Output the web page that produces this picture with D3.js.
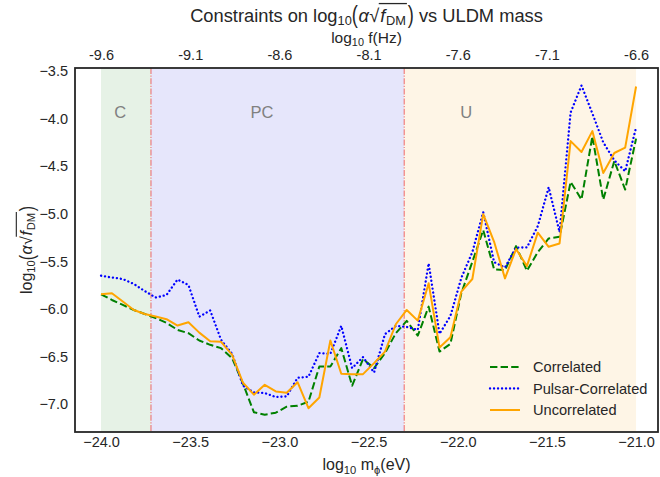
<!DOCTYPE html>
<html>
<head>
<meta charset="utf-8">
<script src="https://cdn.jsdelivr.net/npm/d3@7"></script>
<style>
  body { margin: 0; background: #fff; }
  svg text { font-family: "Liberation Sans", Arial, sans-serif; fill: #262626; white-space: pre; }
</style>
</head>
<body>
<svg id="chart" width="660" height="477"></svg>
<script>
// log10 m (eV) sample points
var mass = [-24.000, -23.939, -23.878, -23.816, -23.755, -23.694, -23.633, -23.571, -23.510, -23.449,
            -23.388, -23.327, -23.265, -23.204, -23.143, -23.082, -23.020, -22.959, -22.898, -22.837,
            -22.776, -22.714, -22.653, -22.592, -22.531, -22.469, -22.408, -22.347, -22.286, -22.224,
            -22.163, -22.102, -22.041, -21.980, -21.918, -21.857, -21.796, -21.735, -21.673, -21.612,
            -21.551, -21.490, -21.429, -21.367, -21.306, -21.245, -21.184, -21.122, -21.061, -21.000];

var correlated = [-5.845, -5.905, -5.957, -6.010, -6.052, -6.094, -6.146, -6.219, -6.254, -6.331,
                  -6.376, -6.411, -6.516, -6.785, -7.084, -7.110, -7.089, -7.026, -7.016, -6.974,
                  -6.604, -6.604, -6.411, -6.806, -6.526, -6.621, -6.463, -6.254, -6.125, -6.279,
                  -5.975, -6.447, -6.366, -5.835, -5.504, -5.171, -5.583, -5.591, -5.339, -5.598,
                  -5.402, -5.258, -5.242, -4.665, -4.850, -4.186, -4.850, -4.445, -4.745, -4.210];

var pulsarCorrelated = [-5.650, -5.669, -5.685, -5.737, -5.811, -5.879, -5.853, -5.690, -5.748, -6.080,
                        -6.015, -6.324, -6.471, -6.806, -6.876, -6.883, -6.925, -6.918, -6.722, -6.712,
                        -6.463, -6.471, -6.177, -6.621, -6.505, -6.667, -6.264, -6.177, -6.188, -6.219,
                        -5.520, -6.261, -6.073, -5.674, -5.402, -4.983, -5.507, -5.564, -5.355, -5.353,
                        -5.129, -4.721, -5.192, -3.935, -3.652, -3.945, -4.249, -4.438, -4.553, -4.092];

var uncorrelated = [-5.845, -5.835, -5.921, -6.010, -6.052, -6.078, -6.107, -6.174, -6.139, -6.248,
                    -6.338, -6.345, -6.481, -6.775, -6.900, -6.796, -6.866, -6.879, -6.769, -7.042,
                    -6.929, -6.331, -6.680, -6.684, -6.684, -6.568, -6.447, -6.160, -6.010, -6.122,
                    -5.730, -6.405, -6.296, -5.818, -5.685, -5.004, -5.294, -5.678, -5.370, -5.549,
                    -5.198, -5.346, -5.311, -4.236, -4.351, -4.131, -4.571, -4.361, -4.305, -3.662];

var seriesNames = ["Correlated", "Pulsar-Correlated", "Uncorrelated"];
var seriesColors = ["#008000", "#0000ff", "#ffa500"];
var seriesDash = ["7.4,3.2", "0.1,3.9", null];

var regionNames = ["C", "PC", "U"];
var regionStart = [-24.0, -23.72, -22.30];
var regionEnd = [-23.72, -22.30, -21.0];
var regionColors = ["#e6f2e6", "#e6e6fb", "#fef5e6"];
var regionLabelX = [-23.893, -23.097, -21.953];
var boundaries = [-23.72, -22.30];

var xTicks = [-24.0, -23.5, -23.0, -22.5, -22.0, -21.5, -21.0];
var topTickLabels = ["-9.6", "-9.1", "-8.6", "-8.1", "-7.6", "-7.1", "-6.6"];
var yTicks = [-3.5, -4.0, -4.5, -5.0, -5.5, -6.0, -6.5, -7.0];

var pL = 75, pR = 658, pT = 68, pB = 432;
var svg = d3.select("#chart");

var x = d3.scaleLinear().domain([-24.146, -20.877]).range([pL, pR]);
var y = d3.scaleLinear().domain([-7.292, -3.468]).range([pB, pT]);

// shaded regions
svg.selectAll("rect.region").data(regionNames).enter().append("rect")
  .attr("class", "region")
  .attr("x", function(d, i) { return x(regionStart[i]); })
  .attr("y", pT)
  .attr("width", function(d, i) { return x(regionEnd[i]) - x(regionStart[i]); })
  .attr("height", pB - pT)
  .attr("fill", function(d, i) { return regionColors[i]; });

svg.selectAll("line.bound").data(boundaries).enter().append("line")
  .attr("x1", function(d) { return x(d); })
  .attr("x2", function(d) { return x(d); })
  .attr("y1", pT).attr("y2", pB)
  .attr("stroke", "#ee5555").attr("stroke-opacity", 0.8)
  .attr("stroke-width", 1.1)
  .attr("stroke-dasharray", "6,1.5,1.2,1.5");

svg.selectAll("text.rlabel").data(regionNames).enter().append("text")
  .attr("x", function(d, i) { return x(regionLabelX[i]); })
  .attr("y", 118)
  .attr("text-anchor", "middle")
  .style("font-size", "16.5px")
  .style("fill", "#808080")
  .text(function(d) { return d; });

// lines
var line = d3.line()
  .x(function(d, i) { return x(mass[i]); })
  .y(function(d) { return y(d); });

[correlated, pulsarCorrelated, uncorrelated].forEach(function(s, k) {
  svg.append("path")
    .datum(s)
    .attr("d", line)
    .attr("fill", "none")
    .attr("stroke", seriesColors[k])
    .attr("stroke-width", k == 1 ? 2.3 : 2)
    .attr("stroke-dasharray", seriesDash[k])
    .attr("stroke-linecap", k == 1 ? "round" : "butt")
    .attr("stroke-linejoin", "round");
});

// frame
svg.append("rect")
  .attr("x", pL).attr("y", pT)
  .attr("width", pR - pL).attr("height", pB - pT)
  .attr("fill", "none").attr("stroke", "#262626").attr("stroke-width", 1.8);

// axes
var fmt = function(d) { return d3.format(".1f")(d).replace("-", "\u2212"); };
var xAxis = svg.append("g").attr("transform", "translate(0," + pB + ")")
  .call(d3.axisBottom(x).tickValues(xTicks).tickSize(0).tickPadding(5).tickFormat(fmt));
var topAxis = svg.append("g").attr("transform", "translate(0," + pT + ")")
  .call(d3.axisTop(x).tickValues(xTicks).tickSize(0).tickPadding(8)
    .tickFormat(function(d, i) { return topTickLabels[i]; }));
var yAxis = svg.append("g").attr("transform", "translate(" + pL + ",0)")
  .call(d3.axisLeft(y).tickValues(yTicks).tickSize(0).tickPadding(7).tickFormat(fmt));

[xAxis, topAxis, yAxis].forEach(function(a) {
  a.select(".domain").remove();
  a.selectAll("text").style("font-size", "14.5px").style("fill", "#262626")
    .style("font-family", "'Liberation Sans', Arial, sans-serif");
});

// text with subscripts and radical
function rich(parts, px, py, size, rot) {
  var g = svg.append("g").attr("transform", "translate(" + px + "," + py + ")" + (rot ? " rotate(-90)" : ""));
  var inner = g.append("g");
  var cx = 0;
  var overFrom = null;
  parts.forEach(function(p) {
    var fs = (p.s || 1) * size;
    var t = inner.append("text")
      .attr("x", cx)
      .attr("y", p.dy ? p.dy * size : 0)
      .style("font-size", fs + "px")
      .style("font-style", p.it ? "italic" : null)
      .text(p.t);
    if (p.sy) t.attr("transform", "translate(0," + (p.dy || 0) * size + ") scale(1," + p.sy + ")").attr("y", 0);
    var w = t.node().getComputedTextLength();
    if (p.overStart) overFrom = cx + w;
    if (p.overEnd && overFrom !== null) {
      inner.append("line")
        .attr("x1", overFrom - 0.5).attr("x2", cx + w + 1)
        .attr("y1", -size * 0.98).attr("y2", -size * 0.98)
        .attr("stroke", "#262626").attr("stroke-width", size * 0.07);
    }
    cx += w + (p.gap || 0) * size;
  });
  inner.attr("transform", "translate(" + (-cx / 2) + ",0)");
}

function alphaSqrt(pre, post) {
  var a = [{ t: pre + "log" }, { t: "10", s: 0.7, dy: 0.18 },
    { t: "(", sy: 1.3, dy: 0.1, gap: 0.03 }, { t: "\u03b1", it: true, gap: 0.02 },
    { t: "\u221a", overStart: true, gap: 0.05 }, { t: "f", it: true, gap: 0.04 },
    { t: "DM", s: 0.7, dy: 0.18, overEnd: true, gap: 0.1 }, { t: ")", sy: 1.3, dy: 0.1 }];
  if (post) a.push({ t: post });
  return a;
}

rich(alphaSqrt("Constraints on ", " vs ULDM mass"), (pL + pR) / 2, 21.5, 18.3, false);
rich([{ t: "log" }, { t: "10", s: 0.7, dy: 0.22 }, { t: " f(Hz)" }], (pL + pR) / 2, 43, 15.5, false);
rich([{ t: "log" }, { t: "10", s: 0.7, dy: 0.22 }, { t: " m" }, { t: "\u03d5", s: 0.7, dy: 0.22 }, { t: "(eV)" }],
  (pL + pR) / 2, 470, 16, false);
rich(alphaSqrt("", null), 32, (pT + pB) / 2, 16, true);

// legend
var legend = svg.append("g").attr("transform", "translate(490,367)");
seriesNames.forEach(function(n, k) {
  var row = legend.append("g").attr("transform", "translate(0," + (k * 21.5) + ")");
  row.append("line")
    .attr("x1", 0).attr("x2", 30).attr("y1", 0).attr("y2", 0)
    .attr("stroke", seriesColors[k]).attr("stroke-width", k == 1 ? 2.3 : 2)
    .attr("stroke-dasharray", seriesDash[k])
    .attr("stroke-linecap", k == 1 ? "round" : "butt");
  row.append("text")
    .attr("x", 43).attr("y", 5.2)
    .style("font-size", "14.6px")
    .text(n);
});
</script>
</body>
</html>
